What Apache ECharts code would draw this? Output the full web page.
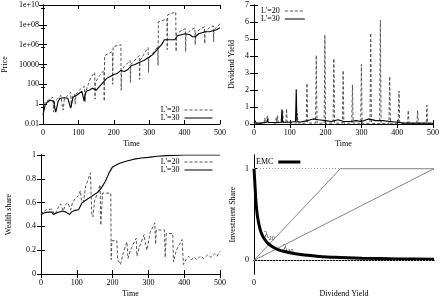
<!DOCTYPE html>
<html>
<head>
<meta charset="utf-8">
<title>Price / Dividend Yield / Wealth share / Investment Share</title>
<script src="https://cdn.jsdelivr.net/npm/echarts@6/dist/echarts.min.js"></script>
<style>
    html, body {margin:0;padding:0;background:#fff}
    #chart {width:442px;height:299px}
</style>
</head>
<body>
<div id="chart"></div>
<script>
// ---- values ----
var timeTicks = [0, 100, 200, 300, 400, 500];

// price, stored as log10(price), [time, log10]
var priceL20 = [[0,0.0],[5,0.2],[15,0.4],[28,0.7],[30,-0.8],[33,0.3],[40,0.5],[50,0.9],[55,1.0],[57,-0.6],[60,0.4],[70,0.9],[78,1.2],[80,-0.3],[83,0.8],[89,1.0],[91,0.0],[93,1.0],[105,1.5],[117,1.8],[119,0.2],[121,1.3],[135,2.7],[146,3.2],[147,0.5],[148,2.2],[160,2.9],[172,3.4],[173,0.3],[174,4.9],[196,5.3],[197,2.0],[198,5.8],[220,6.0],[221,1.4],[222,3.5],[246,4.4],[247,2.2],[248,4.0],[272,4.9],[273,2.5],[274,4.4],[297,5.7],[298,3.2],[299,4.6],[324,5.8],[325,3.9],[326,8.3],[350,8.6],[351,5.5],[352,9.0],[375,9.3],[376,5.3],[377,7.1],[390,7.4],[402,7.6],[403,5.3],[404,7.0],[418,7.5],[429,7.7],[430,6.0],[431,7.2],[445,7.6],[456,7.8],[457,6.1],[458,7.3],[470,7.7],[481,7.9],[482,6.3],[483,7.5],[500,8.1]];
var priceL30 = [[0,-1.1],[3,-1.0],[6,-0.1],[12,0.2],[20,0.4],[30,0.3],[33,-0.3],[36,-0.8],[40,-0.7],[43,0.3],[48,0.6],[60,0.65],[70,0.6],[75,0.4],[78,-0.4],[82,-0.3],[85,0.7],[95,0.9],[100,1.1],[110,1.3],[113,0.8],[116,0.3],[119,1.0],[122,1.3],[130,1.4],[140,1.6],[150,1.4],[155,1.6],[165,2.0],[180,2.6],[190,2.8],[200,3.0],[210,3.1],[220,3.4],[230,3.3],[240,3.5],[250,3.9],[260,4.0],[271,4.2],[285,4.4],[298,4.7],[310,5.0],[320,5.4],[335,6.0],[343,6.5],[355,6.5],[372,6.5],[380,6.9],[390,7.0],[402,7.1],[415,7.0],[422,6.8],[430,6.8],[440,7.1],[458,7.3],[470,7.3],[480,7.4],[490,7.5],[500,7.7]];
var priceTicks = [0.01, 1, 100, 10000, 1e6, 1e8, 1e10];

// dividend yield, [time, yield]
var divL20 = [[0,0.05],[28,0.05],[30,0.35],[32,0.05],[36,0.08],[38,0.5],[40,0.08],[60,0.08],[62,0.4],[64,0.1],[66,0.5],[68,0.08],[78,0.08],[80,0.85],[82,0.08],[89,0.08],[91,0.9],[93,0.06],[119,0.06],[121,0.6],[123,0.06],[146,0.05],[148,2.4],[150,0.05],[172,0.05],[174,4.05],[176,0.05],[196,0.05],[198,5.25],[200,0.05],[221,0.05],[223,3.85],[225,0.05],[247,0.05],[249,3.15],[251,0.05],[273,0.05],[275,2.3],[277,0.05],[298,0.05],[300,3.5],[302,0.05],[324,0.04],[326,5.35],[328,0.04],[351,0.03],[353,6.1],[355,0.03],[377,0.04],[379,2.8],[381,0.04],[403,0.04],[405,1.95],[407,0.04],[429,0.04],[431,0.8],[433,0.04],[455,0.04],[457,0.8],[459,0.04],[481,0.04],[483,1.1],[485,0.04],[500,0.05]];
var divL30 = [[0,0.05],[3,0.2],[6,0.05],[20,0.05],[36,0.1],[38,0.3],[40,0.1],[60,0.08],[76,0.1],[78,0.85],[80,0.1],[100,0.1],[116,0.15],[118,2.05],[120,0.15],[130,0.12],[150,0.2],[165,0.3],[180,0.25],[200,0.2],[215,0.15],[235,0.25],[250,0.15],[270,0.15],[285,0.2],[300,0.15],[320,0.3],[340,0.2],[360,0.2],[380,0.15],[400,0.1],[420,0.05],[450,0.05],[480,0.05],[500,0.04]];

// wealth share, [time, share]
var wealthL20 = [[0,0.5],[5,0.52],[15,0.54],[30,0.545],[35,0.53],[38,0.5],[42,0.52],[50,0.57],[55,0.59],[58,0.56],[62,0.53],[68,0.58],[75,0.6],[80,0.56],[83,0.54],[88,0.6],[95,0.63],[105,0.66],[110,0.7],[113,0.62],[118,0.6],[125,0.74],[130,0.78],[135,0.79],[138,0.85],[140,0.86],[142,0.5],[145,0.48],[150,0.62],[158,0.68],[165,0.75],[167,0.41],[170,0.4],[172,0.68],[195,0.68],[196,0.12],[198,0.28],[212,0.28],[214,0.12],[222,0.08],[230,0.18],[240,0.27],[243,0.13],[250,0.2],[262,0.28],[266,0.3],[268,0.15],[275,0.23],[288,0.33],[292,0.25],[296,0.2],[305,0.35],[318,0.43],[320,0.25],[322,0.37],[345,0.37],[347,0.14],[350,0.34],[368,0.34],[370,0.1],[378,0.2],[394,0.29],[398,0.08],[405,0.12],[412,0.15],[420,0.12],[428,0.14],[435,0.12],[445,0.15],[455,0.13],[465,0.16],[475,0.14],[485,0.17],[492,0.15],[500,0.19]];
var wealthL30 = [[0,0.5],[10,0.515],[20,0.52],[30,0.52],[35,0.5],[40,0.5],[45,0.515],[60,0.53],[70,0.52],[80,0.5],[85,0.52],[95,0.535],[105,0.54],[110,0.545],[115,0.6],[125,0.62],[140,0.65],[150,0.67],[160,0.69],[170,0.73],[180,0.78],[190,0.85],[200,0.9],[210,0.915],[220,0.93],[240,0.95],[260,0.965],[280,0.975],[300,0.98],[325,0.99],[350,0.995],[400,1.0],[500,1.0]];

// investment share vs dividend yield (dividend yield axis unscaled, 0..1)
var emcX = [0, 0.003, 0.006, 0.01, 0.015, 0.02, 0.03, 0.04, 0.055, 0.075, 0.1, 0.13, 0.17, 0.22, 0.28, 0.35, 0.45, 0.6, 0.8, 1.0];
var emcY = [1.0, 0.9, 0.8, 0.66, 0.55, 0.47, 0.37, 0.3, 0.24, 0.19, 0.15, 0.12, 0.095, 0.075, 0.058, 0.045, 0.032, 0.022, 0.015, 0.01];
var lambda20 = [[0, 0], [0.48, 1], [1, 1]];
var lambda30 = [[0, 0], [1, 1]];
var lambdaLabels = [['20', 0.085, 0.27], ['30', 0.19, 0.125]];

var FONT = 'Liberation Serif';
var chart = echarts.init(document.getElementById('chart'));

function toPrice(arr) {
    return arr.map(function (p) { return [p[0], Math.pow(10, p[1])]; });
}
function priceLabel(v) {
    var e = Math.round(Math.log10(v));
    if (e >= 6) return '1e+' + (e < 10 ? '0' + e : e);
    if (e < 0) return String(+v.toFixed(-e));
    return String(Math.round(v));
}

var txt = {fontFamily: FONT, fontSize: 8, color: '#000'};
var line = {lineStyle: {color: '#000', width: 1}};
var tick = {inside: true, length: 4, lineStyle: {color: '#000'}};

function timeAxis(grid, name) {
    return {type: 'value', gridIndex: grid, min: 0, max: 500, interval: 100,
        name: name, nameLocation: 'middle', nameGap: 16, nameTextStyle: txt,
        axisLine: line, axisTick: tick, axisLabel: Object.assign({margin: 5}, txt),
        splitLine: {show: false}};
}
function mirror(base, pos, showTick) {
    var a = Object.assign({}, base);
    a.position = pos;
    a.name = '';
    a.axisLabel = {show: false};
    a.axisTick = showTick ? tick : {show: false};
    a.minorTick = showTick && base.minorTick ? base.minorTick : {show: false};
    return a;
}

var x0 = timeAxis(0, 'Time');
var x1 = timeAxis(1, 'Time');
var x2 = timeAxis(2, 'Time');
var x3 = {type: 'value', gridIndex: 3, min: 0, max: 1,
    name: 'Dividend Yield', nameLocation: 'middle', nameGap: 16, nameTextStyle: txt,
    axisLine: line, axisTick: {show: false},
    axisLabel: Object.assign({margin: 5, customValues: [0]}, txt),
    splitLine: {show: false}};

var y0 = {type: 'log', gridIndex: 0, logBase: 100, min: 0.01, max: 1e10,
    name: 'Price', nameLocation: 'middle', nameGap: 34, nameTextStyle: txt,
    axisLine: line, axisTick: tick, minorTick: {show: true, splitNumber: 2, length: 2, lineStyle: {color: '#000'}},
    axisLabel: Object.assign({margin: 4, formatter: priceLabel}, txt),
    splitLine: {show: false}};
var y1 = {type: 'value', gridIndex: 1, min: 0, max: 7, interval: 1,
    name: 'Dividend Yield', nameLocation: 'middle', nameGap: 18, nameTextStyle: txt,
    axisLine: line, axisTick: tick, axisLabel: Object.assign({margin: 5}, txt),
    splitLine: {show: false}};
var y2 = {type: 'value', gridIndex: 2, min: 0, max: 1, interval: 0.2,
    name: 'Wealth share', nameLocation: 'middle', nameGap: 28, nameTextStyle: txt,
    axisLine: line, axisTick: tick, axisLabel: Object.assign({margin: 5}, txt),
    splitLine: {show: false}};
var y3 = {type: 'value', gridIndex: 3, min: -0.15, max: 1.15,
    name: 'Investment Share', nameLocation: 'middle', nameGap: 17, nameTextStyle: txt,
    axisLine: line, axisTick: {inside: true, length: 4, customValues: [0, 1], lineStyle: {color: '#000'}},
    axisLabel: Object.assign({margin: 5, customValues: [0, 1]}, txt),
    splitLine: {show: false}};

var dashed = {color: '#555', width: 1, type: [3, 2]};
var solid = {color: '#000', width: 1.1};

function legendAt(pos, names, w, lw) {
    return Object.assign({
        data: names, orient: 'vertical', align: 'right', itemWidth: w, itemHeight: 6,
        itemGap: 0, padding: 0, selectedMode: false,
        itemStyle: {opacity: 0},
        lineStyle: {width: lw},
        textStyle: {fontFamily: FONT, fontSize: 8, color: '#000', lineHeight: 7}
    }, pos);
}

var option = {
    animation: false,
    backgroundColor: '#fff',
    textStyle: {fontFamily: FONT},
    grid: [
        {left: 41, top: 5, width: 179, height: 119},
        {left: 254, top: 5, width: 180, height: 119},
        {left: 41, top: 155, width: 179, height: 119},
        {left: 254, top: 155, width: 180, height: 119}
    ],
    legend: [
        legendAt({right: 229, top: 106}, ["L'=20", "L'=30"], 28, 1),
        legendAt({left: 261, top: 7}, ["L'=20", "L'=30"], 20, 1),
        legendAt({right: 229, top: 158}, ["L'=20", "L'=30"], 28, 1),
        legendAt({left: 256, top: 158}, ['EMC'], 22, 3)
    ],
    xAxis: [x0, mirror(x0, 'top', true), x1, mirror(x1, 'top', true),
            x2, mirror(x2, 'top', true), x3, mirror(x3, 'top', false)],
    yAxis: [y0, mirror(y0, 'right', true), y1, mirror(y1, 'right', true),
            y2, mirror(y2, 'right', true), y3, mirror(y3, 'right', false)],
    series: [
        {name: "L'=20", type: 'line', xAxisIndex: 0, yAxisIndex: 0, symbol: 'none', itemStyle: {color: '#555'}, lineStyle: dashed, data: toPrice(priceL20)},
        {name: "L'=30", type: 'line', xAxisIndex: 0, yAxisIndex: 0, symbol: 'none', itemStyle: {color: '#000'}, lineStyle: solid, data: toPrice(priceL30)},
        {name: "L'=20", type: 'line', xAxisIndex: 2, yAxisIndex: 2, symbol: 'none', itemStyle: {color: '#555'}, lineStyle: dashed, data: divL20},
        {name: "L'=30", type: 'line', xAxisIndex: 2, yAxisIndex: 2, symbol: 'none', itemStyle: {color: '#000'}, lineStyle: solid, data: divL30},
        {name: "L'=20", type: 'line', xAxisIndex: 4, yAxisIndex: 4, symbol: 'none', itemStyle: {color: '#555'}, lineStyle: dashed, data: wealthL20},
        {name: "L'=30", type: 'line', xAxisIndex: 4, yAxisIndex: 4, symbol: 'none', itemStyle: {color: '#000'}, lineStyle: solid, data: wealthL30},
        {name: 'lambda20', type: 'line', xAxisIndex: 6, yAxisIndex: 6, symbol: 'none',
            lineStyle: {color: '#666', width: 0.8}, data: lambda20},
        {name: 'lambda30', type: 'line', xAxisIndex: 6, yAxisIndex: 6, symbol: 'none',
            lineStyle: {color: '#666', width: 0.8}, data: lambda30,
            markLine: {silent: true, symbol: 'none', label: {show: false},
                lineStyle: {color: '#999', type: [1, 2], width: 1},
                data: [{yAxis: 0}, {yAxis: 1}]}},
        {name: 'EMC', type: 'line', xAxisIndex: 6, yAxisIndex: 6, symbol: 'none', smooth: 0.3,
            itemStyle: {color: '#000'}, lineStyle: {color: '#000', width: 3},
            data: emcX.map(function (x, i) { return [x, emcY[i]]; })},
        {name: 'labels', type: 'scatter', xAxisIndex: 6, yAxisIndex: 6, symbolSize: 0,
            data: lambdaLabels.map(function (d) { return {value: [d[1], d[2]], sub: d[0]}; }),
            label: {show: true, position: 'inside',
                formatter: function (p) { return '{a|λ}{b|' + p.data.sub + '}'; },
                rich: {a: {fontFamily: FONT, fontSize: 10, color: '#000'},
                       b: {fontFamily: FONT, fontSize: 6, color: '#000', padding: [5, 0, 0, 0]}}}}
    ]
};
chart.setOption(option);
</script>
</body>
</html>
